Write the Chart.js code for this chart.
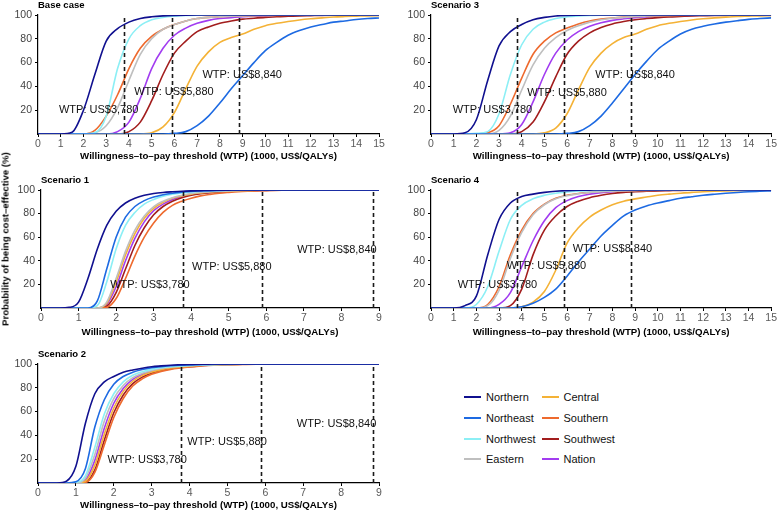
<!DOCTYPE html>
<html>
<head>
<meta charset="utf-8">
<script src="https://cdn.jsdelivr.net/npm/chart.js@4.4.0/dist/chart.umd.min.js"></script>
<style>
    body {
        margin: 0;
        width: 778px;
        height: 513px;
        overflow: hidden;
        background: #fff;
        position: relative;
        font-family: 'Liberation Sans', Arial, sans-serif;
    }
    canvas {
        position: absolute;
    }
    #yTitle {
        position: absolute;
        left: 5px;
        top: 239px;
        transform: translate(-50%, -50%) rotate(-90deg);
        white-space: nowrap;
        font-weight: bold;
        font-size: 9.6px;
        color: #000;
    }
    .key {
        position: absolute;
        font-size: 11px;
        color: #111;
        line-height: 14px;
        white-space: nowrap;
    }
    .key span {
        display: inline-block;
        width: 17px;
        height: 2px;
        vertical-align: middle;
        margin-right: 5px;
        position: relative;
        top: -1px;
    }
</style>
</head>
<body>
<canvas id="baseCase" width="390" height="165" style="left:0;top:0"></canvas>
<canvas id="scenario3" width="388" height="165" style="left:390px;top:0"></canvas>
<canvas id="scenario1" width="390" height="176" style="left:0;top:165px"></canvas>
<canvas id="scenario4" width="388" height="176" style="left:390px;top:165px"></canvas>
<canvas id="scenario2" width="390" height="184" style="left:0;top:330px"></canvas>
<div id="yTitle">Probability of being cost–effective (%)</div>
<div id="legend"></div>

<script>
// Regions (legend order) and their colours
const regions = ['Northern', 'Northeast', 'Northwest', 'Eastern', 'Central', 'Southern', 'Southwest', 'Nation'];
const regionColors = ['#10108f', '#1d6ae2', '#8ceff5', '#bfbfbf', '#f4b236', '#ee6a2e', '#a21d1d', '#a23cf0'];

// WTP thresholds (1000 US$) and their labels
const wtpLines = [3.78, 5.88, 8.84];
const wtpLabels = ['WTP: US$3,780', 'WTP: US$5,880', 'WTP: US$8,840'];
const yTicks = [20, 40, 60, 80, 100];
const xTitle = 'Willingness–to–pay threshold (WTP) (1000, US$/QALYs)';

// x values for the 0-15 panels and for the 0-9 panels
const wtpLong = [0, 0.5, 1, 1.5, 2, 2.5, 3, 3.5, 4, 4.5, 5, 5.5, 6, 6.5, 7, 7.5, 8, 8.5, 9, 9.5, 10, 10.5, 11, 11.5, 12, 12.5, 13, 13.5, 14, 14.5, 15];
const wtpShort = [0, 0.25, 0.5, 0.75, 1, 1.25, 1.5, 1.75, 2, 2.25, 2.5, 2.75, 3, 3.25, 3.5, 3.75, 4, 4.25, 4.5, 4.75, 5, 5.25, 5.5, 5.75, 6, 6.25, 6.5, 6.75, 7, 7.25, 7.5, 7.75, 8, 8.25, 8.5, 8.75, 9];

// Base case (x = wtpLong)
const baseNorthern = [0, 0, 0, 1.5, 20, 50, 78, 88.5, 94, 97, 98.5, 99.3, 99.7, 99.9, 100, 100, 100, 100, 100, 100, 100, 100, 100, 100, 100, 100, 100, 100, 100, 100, 100];
const baseNortheast = [0, 0, 0, 0, 0, 0, 0, 0, 0, 0, 0, 0, 0.5, 2, 7, 15, 26, 38, 49, 60, 70, 77, 83, 87, 90, 92, 94, 95, 96.2, 97, 97.5];
const baseNorthwest = [0, 0, 0, 0, 0, 1, 15, 55, 80, 91, 96, 98, 99, 99.6, 99.9, 100, 100, 100, 100, 100, 100, 100, 100, 100, 100, 100, 100, 100, 100, 100, 100];
const baseEastern = [0, 0, 0, 0, 0, 1, 7, 22, 45, 67, 80, 88, 92, 95, 97, 98, 98.5, 99, 99.2, 99.5, 99.6, 99.8, 99.9, 100, 100, 100, 100, 100, 100, 100, 100];
const baseCentral = [0, 0, 0, 0, 0, 0, 0, 0, 0, 0, 1, 6, 18, 38, 57, 69, 77, 81, 84, 88, 91, 93, 94.5, 95.8, 96.8, 97.6, 98.3, 98.7, 99, 99.3, 99.5];
const baseSouthern = [0, 0, 0, 0, 0, 3, 15, 33, 55, 72, 82, 88, 92, 95, 97, 98, 98.5, 99, 99.2, 99.4, 99.6, 99.7, 99.8, 99.9, 100, 100, 100, 100, 100, 100, 100];
const baseSouthwest = [0, 0, 0, 0, 0, 0, 0, 0, 2, 10, 28, 50, 68, 78, 86, 90, 93, 95, 96.5, 97.3, 98, 98.5, 99, 99.3, 99.5, 99.7, 99.8, 99.9, 100, 100, 100];
const baseNation = [0, 0, 0, 0, 0, 0, 0, 2, 10, 30, 55, 72, 83, 89, 93, 95.5, 97, 97.8, 98.5, 99, 99.3, 99.5, 99.7, 99.8, 99.9, 100, 100, 100, 100, 100, 100];

// Scenario 3 (x = wtpLong)
const s3Northern = [0, 0, 0, 1, 12, 45, 74, 86, 92, 96, 98, 99.2, 99.7, 99.9, 100, 100, 100, 100, 100, 100, 100, 100, 100, 100, 100, 100, 100, 100, 100, 100, 100];
const s3Northeast = [0, 0, 0, 0, 0, 0, 0, 0, 0, 0, 0, 0, 0.5, 2, 7, 15, 26, 38, 50, 61, 71, 78, 84, 88, 90.5, 92.5, 94, 95.2, 96.3, 97, 97.6];
const s3Northwest = [0, 0, 0, 0, 0.5, 2, 17, 50, 75, 88, 94, 97, 98.5, 99.3, 99.7, 99.9, 100, 100, 100, 100, 100, 100, 100, 100, 100, 100, 100, 100, 100, 100, 100];
const s3Eastern = [0, 0, 0, 0, 0, 0, 3, 15, 37, 58, 72, 81, 87, 91, 94, 96, 97.3, 98, 98.7, 99.1, 99.4, 99.6, 99.8, 99.9, 100, 100, 100, 100, 100, 100, 100];
const s3Central = [0, 0, 0, 0, 0, 0, 0, 0, 0, 0, 1, 5, 17, 37, 56, 68, 76, 81, 84, 88, 91, 93, 94.5, 95.8, 96.8, 97.6, 98.2, 98.7, 99, 99.3, 99.5];
const s3Southern = [0, 0, 0, 0, 0, 1, 7, 25, 47, 67, 78, 85, 89, 92.5, 95, 96.5, 97.5, 98.2, 98.7, 99.1, 99.3, 99.5, 99.7, 99.8, 99.9, 100, 100, 100, 100, 100, 100];
const s3Southwest = [0, 0, 0, 0, 0, 0, 0, 0, 2, 10, 27, 48, 67, 78, 85, 89.5, 92.5, 94.5, 96, 97, 97.8, 98.4, 98.8, 99.2, 99.4, 99.6, 99.7, 99.8, 99.9, 100, 100];
const s3Nation = [0, 0, 0, 0, 0, 0, 0, 1, 8, 27, 50, 68, 79, 86, 90.5, 93.5, 95.5, 96.8, 97.8, 98.4, 98.9, 99.2, 99.5, 99.7, 99.8, 99.9, 100, 100, 100, 100, 100];

// Scenario 4 (x = wtpLong)
const s4Northern = [0, 0, 0, 2, 10, 45, 75, 89, 94.5, 96.5, 98, 99, 99.5, 99.8, 99.9, 100, 100, 100, 100, 100, 100, 100, 100, 100, 100, 100, 100, 100, 100, 100, 100];
const s4Northeast = [0, 0, 0, 0, 0, 0, 0, 0, 1, 4, 9, 16, 27, 39, 50, 61, 70, 78, 83, 86.5, 89, 91, 93, 94.3, 95.5, 96.4, 97.2, 97.9, 98.5, 98.9, 99.2];
const s4Northwest = [0, 0, 0, 0, 3, 18, 48, 75, 87, 92.5, 95.5, 97.3, 98.3, 99, 99.4, 99.6, 99.8, 99.9, 100, 100, 100, 100, 100, 100, 100, 100, 100, 100, 100, 100, 100];
const s4Eastern = [0, 0, 0, 0, 0, 2, 15, 42, 64, 79, 87.5, 92.5, 95.2, 96.8, 97.9, 98.6, 99, 99.3, 99.5, 99.7, 99.8, 99.9, 100, 100, 100, 100, 100, 100, 100, 100, 100];
const s4Central = [0, 0, 0, 0, 0, 0, 0, 0, 1, 5, 14, 32, 55, 68, 77, 83, 87.5, 90.5, 92.5, 94, 95.5, 96.5, 97.3, 98, 98.5, 98.9, 99.2, 99.4, 99.6, 99.7, 99.8];
const s4Southern = [0, 0, 0, 0, 0, 3, 18, 45, 66, 80, 88, 93, 95.5, 97, 98, 98.7, 99.1, 99.4, 99.6, 99.7, 99.8, 99.9, 100, 100, 100, 100, 100, 100, 100, 100, 100];
const s4Southwest = [0, 0, 0, 0, 0, 0, 0, 2, 16, 45, 66, 78, 86, 90.5, 93.5, 95.5, 97, 98, 98.6, 99, 99.3, 99.5, 99.7, 99.8, 99.9, 100, 100, 100, 100, 100, 100];
const s4Nation = [0, 0, 0, 0, 0, 0, 3, 13, 35, 57, 74, 85, 91, 94.5, 96.5, 97.8, 98.6, 99, 99.4, 99.6, 99.8, 99.9, 100, 100, 100, 100, 100, 100, 100, 100, 100];

// Scenario 1 (x = wtpShort)
const s1Northern = [0, 0, 0, 0.5, 5, 25, 50, 70, 82, 89, 93, 95.5, 97, 97.9, 98.5, 99, 99.3, 99.5, 99.7, 99.8, 99.9, 100, 100, 100, 100, 100, 100, 100, 100, 100, 100, 100, 100, 100, 100, 100, 100];
const s1Northeast = [0, 0, 0, 0, 0, 0, 6, 33, 60, 77, 86, 91, 94, 96, 97.3, 98.2, 98.8, 99.2, 99.5, 99.7, 99.8, 99.9, 100, 100, 100, 100, 100, 100, 100, 100, 100, 100, 100, 100, 100, 100, 100];
const s1Northwest = [0, 0, 0, 0, 0, 0, 2, 22, 50, 70, 81, 88, 92, 94.8, 96.5, 97.6, 98.4, 98.9, 99.3, 99.5, 99.7, 99.8, 99.9, 100, 100, 100, 100, 100, 100, 100, 100, 100, 100, 100, 100, 100, 100];
const s1Eastern = [0, 0, 0, 0, 0, 0, 0, 5, 25, 48, 66, 78, 86, 90.5, 93.5, 95.5, 97, 97.9, 98.5, 99, 99.3, 99.5, 99.7, 99.8, 99.9, 100, 100, 100, 100, 100, 100, 100, 100, 100, 100, 100, 100];
const s1Central = [0, 0, 0, 0, 0, 0, 0, 4, 22, 45, 63, 76, 84.5, 89.5, 93, 95, 96.5, 97.5, 98.3, 98.8, 99.2, 99.5, 99.6, 99.8, 99.9, 100, 100, 100, 100, 100, 100, 100, 100, 100, 100, 100, 100];
const s1Southern = [0, 0, 0, 0, 0, 0, 0, 0.5, 8, 25, 44, 60, 72, 81, 87, 90.5, 93, 95, 96.3, 97.3, 98, 98.6, 99, 99.3, 99.5, 99.7, 99.8, 99.9, 100, 100, 100, 100, 100, 100, 100, 100, 100];
const s1Southwest = [0, 0, 0, 0, 0, 0, 0, 1.5, 13, 33, 53, 68, 79, 86, 90.5, 93.5, 95.5, 96.8, 97.7, 98.4, 98.8, 99.1, 99.4, 99.6, 99.7, 99.8, 99.9, 100, 100, 100, 100, 100, 100, 100, 100, 100, 100];
const s1Nation = [0, 0, 0, 0, 0, 0, 0, 3, 18, 40, 59, 73, 82.5, 88, 92, 94.5, 96, 97.2, 98, 98.6, 99, 99.3, 99.5, 99.7, 99.8, 99.9, 100, 100, 100, 100, 100, 100, 100, 100, 100, 100, 100];

// Scenario 2 (x = wtpShort)
const s2Northern = [0, 0, 0, 1.5, 14, 50, 75, 85, 89.5, 93, 95, 96.5, 97.7, 98.4, 99, 99.4, 99.6, 99.8, 99.9, 100, 100, 100, 100, 100, 100, 100, 100, 100, 100, 100, 100, 100, 100, 100, 100, 100, 100];
const s2Northeast = [0, 0, 0, 0, 1, 12, 47, 70, 83, 89.5, 93, 95.3, 96.8, 97.8, 98.5, 99, 99.3, 99.5, 99.7, 99.8, 99.9, 100, 100, 100, 100, 100, 100, 100, 100, 100, 100, 100, 100, 100, 100, 100, 100];
const s2Northwest = [0, 0, 0, 0, 0.5, 6, 30, 58, 75, 85, 90.5, 93.5, 95.5, 96.8, 97.7, 98.3, 98.8, 99.1, 99.4, 99.6, 99.7, 99.8, 99.9, 100, 100, 100, 100, 100, 100, 100, 100, 100, 100, 100, 100, 100, 100];
const s2Eastern = [0, 0, 0, 0, 0, 4, 24, 52, 71, 82, 88.5, 92.2, 94.6, 96.2, 97.3, 98, 98.6, 99, 99.3, 99.5, 99.7, 99.8, 99.9, 100, 100, 100, 100, 100, 100, 100, 100, 100, 100, 100, 100, 100, 100];
const s2Central = [0, 0, 0, 0, 0, 1.5, 15, 41, 63, 77, 85.5, 90.3, 93.3, 95.3, 96.6, 97.5, 98.2, 98.7, 99.1, 99.4, 99.6, 99.7, 99.8, 99.9, 100, 100, 100, 100, 100, 100, 100, 100, 100, 100, 100, 100, 100];
const s2Southern = [0, 0, 0, 0, 0, 0.5, 9, 32, 55, 71, 81.5, 87.5, 91.3, 93.8, 95.5, 96.6, 97.5, 98.2, 98.7, 99.1, 99.4, 99.6, 99.7, 99.8, 99.9, 100, 100, 100, 100, 100, 100, 100, 100, 100, 100, 100, 100];
const s2Southwest = [0, 0, 0, 0, 0, 0.5, 11, 36, 59, 74, 83.5, 89, 92.3, 94.5, 96, 97, 97.8, 98.4, 98.9, 99.2, 99.5, 99.7, 99.8, 99.9, 100, 100, 100, 100, 100, 100, 100, 100, 100, 100, 100, 100, 100];
const s2Nation = [0, 0, 0, 0, 0, 2.5, 19, 46, 67, 79.5, 87, 91.3, 94, 95.8, 97, 97.8, 98.4, 98.9, 99.2, 99.5, 99.7, 99.8, 99.9, 100, 100, 100, 100, 100, 100, 100, 100, 100, 100, 100, 100, 100, 100];

const fontFamily = "'Liberation Sans', Arial, Helvetica, sans-serif";

// draws the dashed WTP lines, their labels and the panel title
const wtpPlugin = {
    id: 'wtp',
    afterDatasetsDraw(chart, args, opts) {
        const ctx = chart.ctx;
        const x = chart.scales.x;
        const y = chart.scales.y;
        ctx.save();
        ctx.strokeStyle = '#1a1a1a';
        ctx.lineWidth = 1.6;
        ctx.setLineDash([4, 3]);
        wtpLines.forEach(v => {
            const px = Math.round(x.getPixelForValue(v)) + 0.5;
            ctx.beginPath();
            ctx.moveTo(px, y.getPixelForValue(0));
            ctx.lineTo(px, y.getPixelForValue(100));
            ctx.stroke();
        });
        ctx.setLineDash([]);
        ctx.fillStyle = '#111';
        ctx.font = '11px ' + fontFamily;
        ctx.textAlign = 'center';
        ctx.textBaseline = 'middle';
        opts.labelPos.forEach((p, i) => {
            ctx.fillText(wtpLabels[i], x.getPixelForValue(p[0]), y.getPixelForValue(p[1]));
        });
        ctx.font = 'bold 9.5px ' + fontFamily;
        ctx.textAlign = 'left';
        ctx.fillStyle = '#000';
        ctx.fillText(opts.title, chart.chartArea.left, chart.chartArea.top - 10);
        ctx.restore();
    }
};

function makePanel(id, title, xs, series, xMax, area, labelPos) {
    const canvas = document.getElementById(id);
    const datasets = regions.map((name, i) => ({
        label: name,
        data: xs.map((v, j) => ({x: v, y: series[i][j]})),
        borderColor: regionColors[i],
        borderWidth: 1.6,
        pointRadius: 0,
        fill: false,
        cubicInterpolationMode: 'monotone',
    }));

    const axisGrid = {
        drawOnChartArea: false,
        tickLength: 3,
        color: '#000',
        lineWidth: 1,
    };

    return new Chart(canvas, {
        type: 'line',
        data: {datasets: datasets},
        options: {
            responsive: false,
            animation: false,
            events: [],
            layout: {
                padding: {left: 0, top: area.top, right: canvas.width - area.right, bottom: 0},
            },
            scales: {
                x: {
                    type: 'linear',
                    min: 0,
                    max: xMax,
                    afterFit: s => { s.height = canvas.height - area.bottom; },
                    grid: axisGrid,
                    border: {color: '#000', width: 1.2},
                    ticks: {
                        stepSize: 1,
                        autoSkip: false,
                        maxRotation: 0,
                        padding: 1,
                        color: '#5a5a5a',
                        font: {family: fontFamily, size: 10.5},
                    },
                    title: {
                        display: true,
                        text: xTitle,
                        color: '#000',
                        padding: {top: 0, bottom: 2.5},
                        font: {family: fontFamily, size: 9.7, weight: 'bold'},
                    },
                },
                y: {
                    min: 0,
                    max: 100,
                    afterFit: s => { s.width = area.left; },
                    afterBuildTicks: axis => axis.ticks = yTicks.map(v => ({value: v})),
                    grid: axisGrid,
                    border: {color: '#000', width: 1.2},
                    ticks: {
                        padding: 3,
                        color: '#444',
                        font: {family: fontFamily, size: 10.5},
                    },
                },
            },
            plugins: {
                legend: {display: false},
                tooltip: {enabled: false},
                wtp: {title: title, labelPos: labelPos},
            },
        },
        plugins: [wtpPlugin],
    });
}

makePanel('baseCase', 'Base case', wtpLong,
    [baseNorthern, baseNortheast, baseNorthwest, baseEastern, baseCentral, baseSouthern, baseSouthwest, baseNation],
    15, {left: 38, right: 379, top: 15, bottom: 134},
    [[2.67, 20], [5.98, 35.5], [8.98, 49.7]]);

makePanel('scenario3', 'Scenario 3', wtpLong,
    [s3Northern, s3Northeast, s3Northwest, s3Eastern, s3Central, s3Southern, s3Southwest, s3Nation],
    15, {left: 41, right: 382, top: 15, bottom: 134},
    [[2.71, 20.4], [6.0, 34.9], [9.0, 49.7]]);

makePanel('scenario1', 'Scenario 1', wtpShort,
    [s1Northern, s1Northeast, s1Northwest, s1Eastern, s1Central, s1Southern, s1Southwest, s1Nation],
    9, {left: 41, right: 379, top: 25, bottom: 143},
    [[2.9, 19.7], [5.08, 34.4], [7.88, 49.3]]);

makePanel('scenario4', 'Scenario 4', wtpLong,
    [s4Northern, s4Northeast, s4Northwest, s4Eastern, s4Central, s4Southern, s4Southwest, s4Nation],
    15, {left: 41, right: 382, top: 25, bottom: 143},
    [[2.93, 19.7], [5.09, 35.2], [8.0, 49.9]]);

makePanel('scenario2', 'Scenario 2', wtpShort,
    [s2Northern, s2Northeast, s2Northwest, s2Eastern, s2Central, s2Southern, s2Southwest, s2Nation],
    9, {left: 38, right: 379, top: 34, bottom: 153},
    [[2.88, 19.7], [4.99, 34.6], [7.88, 49.6]]);

// legend: two columns of four
const legend = document.getElementById('legend');
regions.forEach((name, i) => {
    const col = Math.floor(i / 4);
    const row = i % 4;
    const item = document.createElement('div');
    item.className = 'key';
    item.style.left = (464 + col * 77.5) + 'px';
    item.style.top = (390 + row * 20.8) + 'px';
    item.innerHTML = '<span style="background:' + regionColors[i] + '"></span>' + name;
    legend.appendChild(item);
});
</script>
</body>
</html>
